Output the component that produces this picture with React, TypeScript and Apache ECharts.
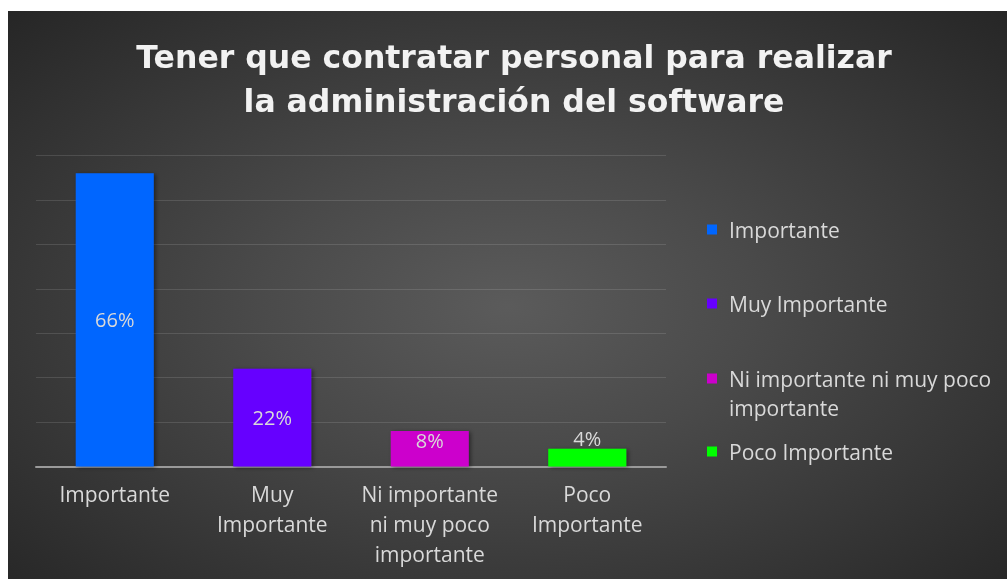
import React, { useEffect, useRef } from "react";
import * as echarts from "echarts";

const titleText = "Tener que contratar personal para realizar\nla administración del software";
const categories = [
  "Importante",
  "Muy\nImportante",
  "Ni importante\nni muy poco\nimportante",
  "Poco\nImportante",
];
const seriesNames = [
  "Importante",
  "Muy Importante",
  "Ni importante ni muy poco importante",
  "Poco Importante",
];
const legendLabels = [
  "Importante",
  "Muy Importante",
  "Ni importante ni muy poco\nimportante",
  "Poco Importante",
];
const values = [66, 22, 8, 4];
const colors = ["#0066ff", "#6600ff", "#cc00cc", "#00ff00"];
const labelPositions = ["inside", "inside", "insideTop", "top"];
const legendTops = [204, 278, 353, 426];

export default function App() {
  const ref = useRef<HTMLDivElement>(null);
  useEffect(() => {
    if (!ref.current) return;
    const chart = echarts.init(ref.current, null, { renderer: "svg" });
    const font = "'Open Sans', 'Noto Sans', sans-serif";
    const series = seriesNames.map((name, i) => ({
      name,
      type: "bar",
      stack: "all",
      barWidth: 78,
      data: values.map((v, j) => (j === i ? v : "-")),
      itemStyle: {
        color: colors[i],
        shadowColor: "rgba(0,0,0,0.45)",
        shadowBlur: 4,
        shadowOffsetX: 2,
        shadowOffsetY: 1,
      },
      label: {
        show: true,
        position: labelPositions[i],
        distance: 0,
        formatter: "{c}%",
        color: "#d9d9d9",
        fontSize: 20,
        lineHeight: 20,
        fontFamily: font,
      },
    }));
    const legends = seriesNames.map((name, i) => ({
      orient: "vertical",
      left: 699,
      top: legendTops[i],
      padding: 0,
      data: [name],
      icon: i === 2 ? "path://M0,0H10V10H0Z M0,39H0.01V39.01H0Z" : "rect",
      itemWidth: 10,
      itemHeight: i === 2 ? 39 : 10,
      formatter: () => legendLabels[i],
      textStyle: {
        color: "#d9d9d9",
        fontSize: 21,
        lineHeight: 29,
        fontFamily: font,
        padding: [0, 0, 0, 7],
      },
      selectedMode: false,
    }));
    chart.setOption({
      animation: false,
      title: {
        text: titleText,
        left: 506,
        top: 24,
        textAlign: "center",
        padding: 0,
        textStyle: {
          color: "#f2f2f2",
          fontSize: 31.5,
          fontWeight: "bold",
          fontFamily: "'DejaVu Sans', Verdana, sans-serif",
          lineHeight: 44,
        },
      },
      legend: legends,
      grid: { left: 28, right: 341, top: 144.5, bottom: 112.5, containLabel: false },
      xAxis: {
        type: "category",
        data: categories,
        axisTick: { show: false },
        axisLine: { lineStyle: { color: "#9a9a9a", width: 2 } },
        axisLabel: {
          color: "#d9d9d9",
          fontSize: 21,
          lineHeight: 30,
          margin: 12,
          fontFamily: font,
          interval: 0,
        },
      },
      yAxis: {
        type: "value",
        min: 0,
        max: 70,
        interval: 10,
        axisLabel: { show: false },
        axisLine: { show: false },
        axisTick: { show: false },
        splitLine: { lineStyle: { color: "rgba(255,255,255,0.12)", width: 1 } },
      },
      series,
    });
    return () => chart.dispose();
  }, []);
  return (
    <div
      ref={ref}
      style={{
        position: "fixed",
        left: 8,
        top: 11,
        width: 999,
        height: 568,
        background:
          "radial-gradient(ellipse farthest-corner at 50% 52%, #5b5b5b 0%, #4a4a4a 35%, #262626 100%)",
      }}
    />
  );
}
